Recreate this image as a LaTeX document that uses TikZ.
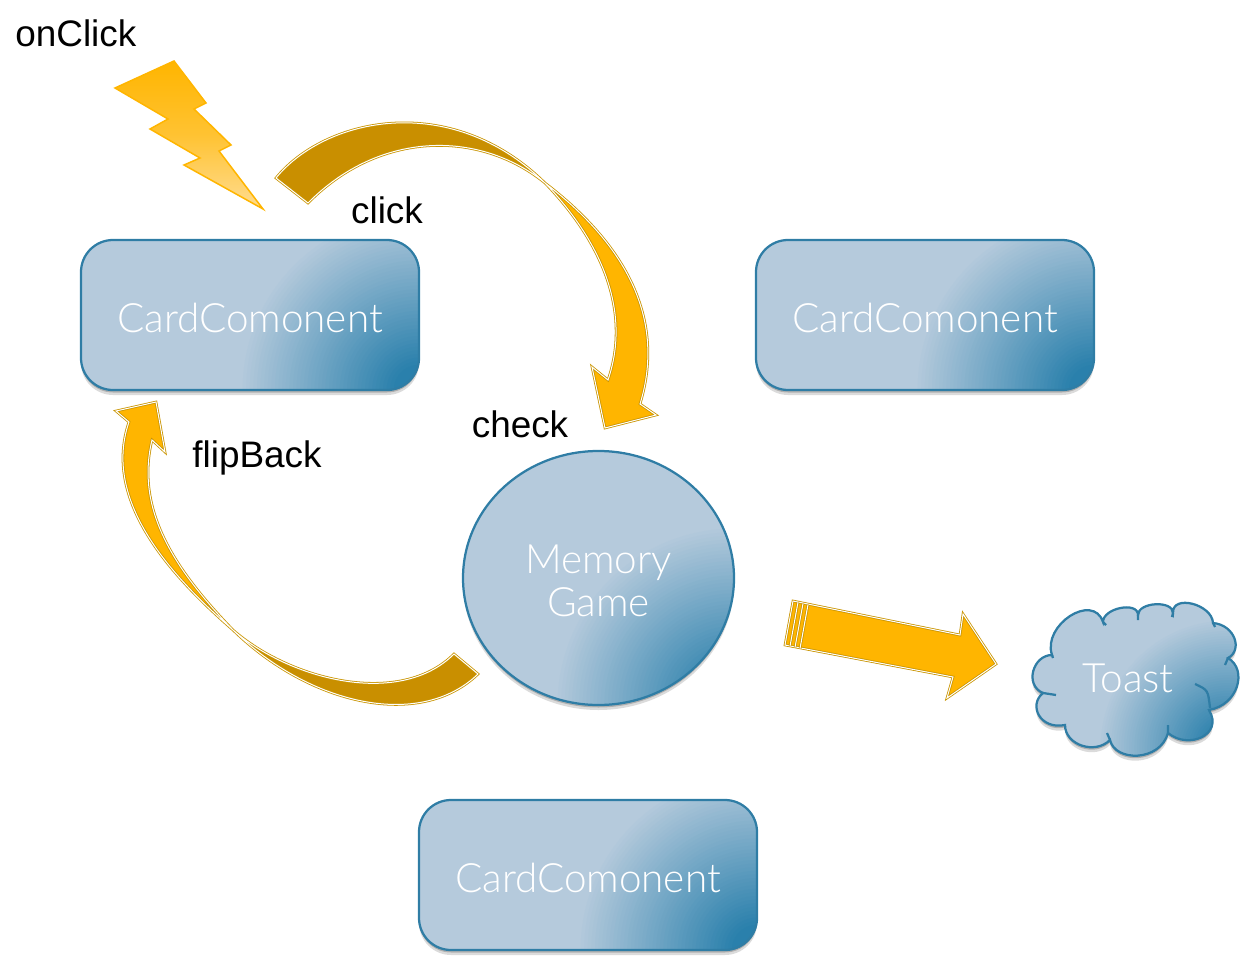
\documentclass[tikz,border=0pt]{standalone}
\usepackage{fontspec}
\setmainfont{Liberation Sans}
\newfontfamily\cardfont{Lato Light}
\usepackage{tikz}
\usetikzlibrary{arrows.meta,positioning,shapes.geometric,calc,shadows}
\definecolor{memoBase}{HTML}{B5CADC}
\definecolor{memoDeep}{HTML}{2A80AC}
\definecolor{memoEdge}{HTML}{2F7DA5}
\definecolor{memoAmber}{HTML}{FFB500}
\definecolor{memoOchre}{HTML}{C98F00}
\definecolor{memoRim}{HTML}{C99400}
\definecolor{memoPale}{HTML}{FFDC90}
\newcommand{\memoGlow}[2]{%
  \foreach \r [evaluate=\r as \t using {max(0,(\r-14)*1.16)}] in {100,98,...,4}
    \fill[memoBase!\t!memoDeep] (#1) circle ({#2/100*\r});}
\tikzset{
  memoShadow/.style={
    drop shadow={shadow xshift=0mm, shadow yshift=-0.5mm, opacity=.2, fill=black},
    drop shadow={shadow xshift=0mm, shadow yshift=-1mm, opacity=.14, fill=black}
  },
  memoBlob/.style={
    draw=memoEdge,
    fill=memoBase,
    line width=.45mm,
    memoShadow,
    text=white,
    align=center,
    inner sep=0pt,
    font=\cardfont\fontsize{23}{24.5}\selectfont,
    path picture={\memoGlow{path picture bounding box.south east}{180}}
  },
  memoCard/.style={
    memoBlob,
    rounded corners=6.4mm,
    minimum width=67.6mm,
    minimum height=30mm,
    text height=20pt
  },
  memoRound/.style={
    memoBlob,
    ellipse,
    minimum width=54.2mm,
    minimum height=50.8mm
  },
  memoRibbon/.style={
    draw=memoRim,
    double=white,
    double distance=.2mm,
    line width=.16mm,
    fill=memoAmber
  },
  memoRibbonDark/.style={memoRibbon, fill=memoOchre},
  memoLabel/.style={font=\fontsize{21}{25}\selectfont, inner sep=0pt}
}

\begin{document}
\begin{tikzpicture}[x=.2mm, y=-.2mm]
  \useasboundingbox (0,0) rectangle (1250,967);

  \node[memoCard] (cardLeft) at (250,315) {CardComonent};
  \node[memoCard] (cardRight) at (925,315) {CardComonent};
  \node[memoCard] (cardBottom) at (588,875) {CardComonent};
  \node[memoRound] (game) at (598.5,578) {\rule{0pt}{19.5pt}Memory\\Game};

  % toast cloud
  \path[draw=memoEdge, fill=memoBase, line width=.45mm, memoShadow,
    path picture={\memoGlow{1228,748}{130}}]
    (1052,655) .. controls (1042,625) and (1093,592) .. (1103,622)
    .. controls (1103,608) and (1138,601) .. (1138,615)
    .. controls (1138,602) and (1173,600) .. (1173,613)
    .. controls (1172,594) and (1212,604) .. (1213,623)
    .. controls (1235,625) and (1243,650) .. (1228,658)
    .. controls (1248,670) and (1238,705) .. (1209,710)
    .. controls (1224,735) and (1188,750) .. (1168,733)
    .. controls (1160,762) and (1115,762) .. (1110,740)
    .. controls (1095,755) and (1065,745) .. (1065,725)
    .. controls (1040,730) and (1028,705) .. (1043,693)
    .. controls (1024,685) and (1033,655) .. cycle;
  \draw[memoEdge, line width=.45mm] (1043,693) -- (1056,695)
    (1195,684) .. controls (1208,690) .. (1210,708)
    (1107,733) -- (1110,740) (1168,725) -- (1168,733)
    (1103,622) -- (1106,625) (1138,615) -- (1138,620) (1173,613) -- (1172,617)
    (1213,623) -- (1215,627) (1228,658) -- (1225,665) (1052,655) -- (1053,658);
  \node[text=white, inner sep=0pt, text height=20pt, font=\cardfont\fontsize{23}{24.5}\selectfont] (toast) at (1128,675) {Toast};

  % bolt
  \path[draw=memoAmber, line width=.3mm, top color=memoAmber, bottom color=memoPale, middle color=memoAmber!65!memoPale]
    (174,61) -- (206,103) -- (194,109) -- (231,145) -- (219,151) -- (263,209) -- (184,165)
    -- (200,158) -- (150,129) -- (168,119) -- (115,88) -- cycle;

  % click ribbon
  \coordinate (clickTail) at (276,178);
  \coordinate (clickTwist) at (545,183);
  \coordinate (checkTip) at (605,428);
  \path[memoRibbonDark] (clickTail) .. controls (325,118) and (450,90) .. (clickTwist)
    .. controls (480,130) and (380,130) .. (308,203) -- cycle;
  \path[memoRibbon] (clickTwist) .. controls (600,225) and (672,300) .. (640,404)
    -- (656,415) -- (checkTip) -- (592,367) -- (608,380)
    .. controls (632,310) and (600,240) .. (clickTwist) -- cycle;

  % flipBack ribbon
  \coordinate (flipTail) at (478,674);
  \coordinate (flipTwist) at (233,630);
  \coordinate (flipTip) at (156,402);
  \path[memoRibbonDark] (flipTwist) .. controls (290,680) and (400,708) .. (454,654)
    -- (flipTail) .. controls (420,730) and (310,705) .. (flipTwist) -- cycle;
  \path[memoRibbon] (flipTwist) .. controls (170,575) and (102,500) .. (129,422)
    -- (116,411) -- (flipTip) -- (165,452) -- (152,440)
    .. controls (135,510) and (175,570) .. (flipTwist) -- cycle;

  % toast arrow
  \coordinate (toastTail) at (785,645);
  \coordinate (toastTip) at (996,664);
  \path[memoRibbon] (toastTail) -- (793,601) -- (960,635) -- (963,614) -- (toastTip)
    -- (947,698) -- (953,677) -- cycle;
  \foreach \d in {5,10,15}
    \draw[memoRim, double=white, double distance=.2mm, line width=.16mm]
      ($(toastTail)+(\d,1.2*\d/5)$) -- ($(793,601)+(\d,1.2*\d/5)$);

  \node[memoLabel, anchor=west] (onClick) at (15,33) {onClick};
  \node[memoLabel] (click) at (387,210) {click};
  \node[memoLabel] (check) at (520,424) {check};
  \node[memoLabel] (flipBack) at (257,458) {flipBack};
\end{tikzpicture}
\end{document}
